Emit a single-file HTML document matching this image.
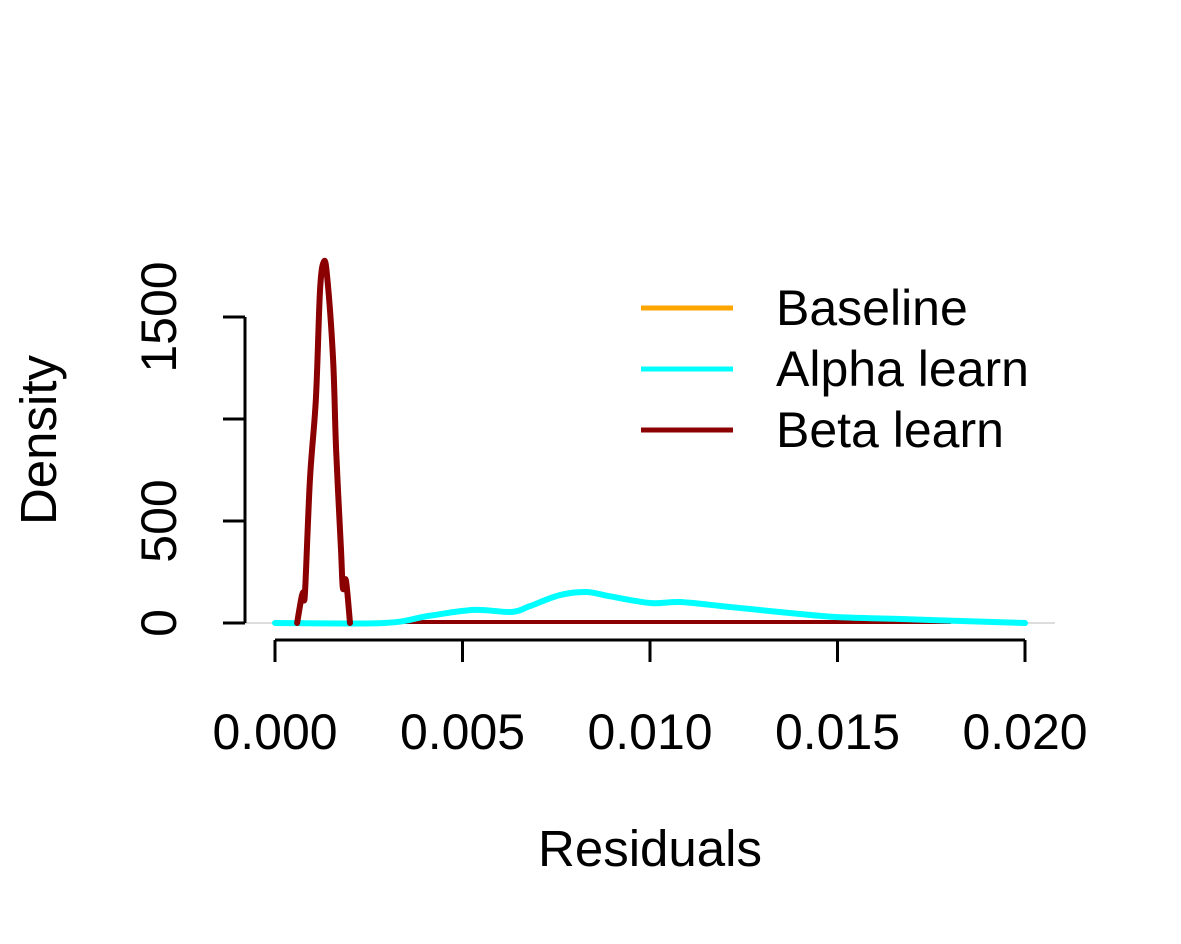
<!DOCTYPE html>
<html><head><meta charset="utf-8"><style>body{margin:0;background:#fff}svg{display:block}text{font-family:"Liberation Sans",Arial,sans-serif;fill:#000}</style></head>
<body>
<svg id="c" width="1181" height="944"></svg>
<script>
const xTicks=[0,0.005,0.01,0.015,0.02];
const xTickLabels=["0.000","0.005","0.010","0.015","0.020"];
const yTicks=[0,500,1000,1500];
const yTickLabels=["0","500","","1500"];
const betaX=[0.00059,0.0007,0.00075,0.0008,0.00093,0.00109,0.0012,0.0013,0.00139,0.00155,0.00163,0.00176,0.00181,0.00189,0.002];
const betaY=[0,120,150,150,700,1100,1630,1770,1700,1290,850,360,170,210,0];
const betaTailX=[0.0034,0.018];
const betaTailY=[5,5];
const alphaX=[0,0.0029,0.0041,0.0053,0.0063,0.0068,0.0076,0.0083,0.0089,0.01,0.0108,0.0119,0.0129,0.014,0.015,0.0166,0.0183,0.02];
const alphaY=[0,0,35,64,54,83,137,152,132,98,103,83,64,44,29,20,10,0];
const seriesNames=["Baseline","Alpha learn","Beta learn"];
const seriesColors=["orange","cyan","darkred"];

const NS="http://www.w3.org/2000/svg",svg=document.getElementById('c');
const sx=v=>275+v*37500, sy=v=>623-v*0.204;
function el(t,a,p){const e=document.createElementNS(NS,t);for(const k in a)e.setAttribute(k,a[k]);(p||svg).appendChild(e);return e;}
function txt(x,y,s,size,extra){const e=el('text',Object.assign({x:x,y:y,'font-size':size},extra||{}));e.textContent=s;return e;}
let z=el('line',{x1:245,x2:1055,y1:sy(0),y2:sy(0),stroke:'#bbb','stroke-width':1});


let xa=el('line',{x1:sx(xTicks[0]),x2:sx(xTicks[xTicks.length-1]),y1:640,y2:640,stroke:'#000','stroke-width':3});


xTicks.forEach((v,i)=>{
 let t=el('line',{x1:sx(v),x2:sx(v),y1:640,y2:662,stroke:'#000','stroke-width':3});
 
 
 let l=txt(sx(v),749,xTickLabels[i],50,{'text-anchor':'middle'});
 
 
});
let ya=el('line',{x1:245,x2:245,y1:sy(0),y2:sy(1500),stroke:'#000','stroke-width':3});


yTicks.forEach((v,i)=>{
 let t=el('line',{x1:245,x2:223,y1:sy(v),y2:sy(v),stroke:'#000','stroke-width':3});
 
 
 if(yTickLabels[i]){let l=txt(176,sy(v),yTickLabels[i],50,{'text-anchor':'middle',transform:`rotate(-90 176 ${sy(v)})`});
 
 }
});
let xt=txt(650,866,"Residuals",51,{'text-anchor':'middle'});


let yt=txt(56,440,"Density",51,{'text-anchor':'middle',transform:'rotate(-90 56 440)'});


function line(xs,ys,col,name,w){
 const P=xs.map((x,i)=>[sx(x),sy(ys[i])]);
 let d='M'+P[0][0]+' '+P[0][1];
 for(let i=0;i<P.length-1;i++){
  const p0=P[Math.max(0,i-1)],p1=P[i],p2=P[i+1],p3=P[Math.min(P.length-1,i+2)];
  const c1=[p1[0]+(p2[0]-p0[0])/6,p1[1]+(p2[1]-p0[1])/6],c2=[p2[0]-(p3[0]-p1[0])/6,p2[1]-(p3[1]-p1[1])/6];
  d+=` C${c1[0].toFixed(1)} ${c1[1].toFixed(1)} ${c2[0].toFixed(1)} ${c2[1].toFixed(1)} ${p2[0].toFixed(1)} ${p2[1].toFixed(1)}`;
 }
 const p=el('path',{d:d,fill:'none',stroke:col,'stroke-width':w,'stroke-linejoin':'round','stroke-linecap':'round'});
 
 
}
line(betaTailX,betaTailY,seriesColors[2],'beta-learn-tail',4);
line(alphaX,alphaY,seriesColors[1],'alpha-learn-curve',6);
line(betaX,betaY,seriesColors[2],'beta-learn-curve',6);
const lg=el('g',{});


seriesNames.forEach((n,i)=>{
 const y=308+i*61;
 let l=el('line',{x1:641,x2:733,y1:y,y2:y,stroke:seriesColors[i],'stroke-width':5},lg);
 
 
 let t=el('text',{x:776,y:y+17,'font-size':50},lg);t.textContent=n;
 
 
});
</script>
</body></html>
